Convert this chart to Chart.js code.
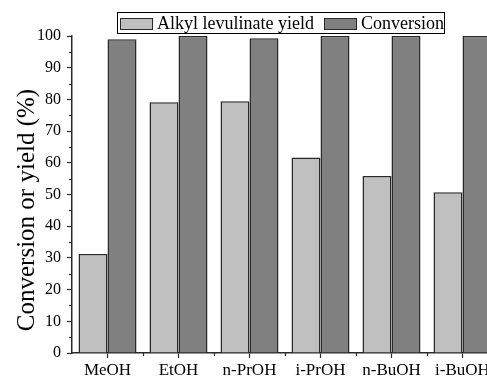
<!DOCTYPE html>
<html lang="en">
<head>
    <meta charset="UTF-8">
    <title>Conversion and alkyl levulinate yield</title>
    <script src="https://cdn.jsdelivr.net/npm/chart.js@4/dist/chart.umd.min.js"></script>
    <style>
        html, body {
            margin: 0;
            padding: 0;
            background: #fff;
            overflow: hidden;
        }
        #wrap {
            width: 500px;
            height: 379px;
        }
    </style>
</head>
<body>
    <div id="wrap">
        <canvas id="chart" width="500" height="379"></canvas>
    </div>

    <script>
        const alcohols = ['MeOH', 'EtOH', 'n-PrOH', 'i-PrOH', 'n-BuOH', 'i-BuOH'];
        const yieldValues = [31.2, 79.1, 79.4, 61.7, 55.8, 50.7];
        const conversionValues = [99.0, 100, 99.3, 100, 100, 100];
        const yTicks = [0, 10, 20, 30, 40, 50, 60, 70, 80, 90, 100];

        const serif = '"Liberation Serif", "Times New Roman", serif';
        const edge = '#2a2a2a';

        // minor ticks, legend box and rotated axis title
        const decor = {
            id: 'decor',
            afterDraw(chart) {
                const ctx = chart.ctx;
                const x = chart.scales.x;
                const y = chart.scales.y;
                const area = chart.chartArea;
                ctx.save();
                ctx.strokeStyle = edge;
                ctx.lineWidth = 1.2;

                // y minor ticks at the 5s
                for (let v = 5; v < 100; v += 10) {
                    const py = Math.round(y.getPixelForValue(v)) + 0.5;
                    ctx.beginPath();
                    ctx.moveTo(area.left - 3, py);
                    ctx.lineTo(area.left, py);
                    ctx.stroke();
                }
                // x minor ticks between categories
                for (let i = 0; i < alcohols.length; i++) {
                    const px = Math.round((x.getPixelForValue(i) + x.getPixelForValue(i + 1)) / 2) + 0.5;
                    ctx.beginPath();
                    ctx.moveTo(px, area.bottom);
                    ctx.lineTo(px, area.bottom + 3);
                    ctx.stroke();
                }

                // legend
                ctx.lineWidth = 1;
                ctx.strokeStyle = '#000';
                ctx.strokeRect(117.5, 12.5, 327, 21);
                ctx.font = '18px ' + serif;
                ctx.textBaseline = 'middle';
                const items = [
                    { sx: 120, tx: 157, ds: chart.data.datasets[0] },
                    { sx: 324, tx: 361, ds: chart.data.datasets[1] }
                ];
                items.forEach(it => {
                    ctx.fillStyle = it.ds.backgroundColor;
                    ctx.fillRect(it.sx + 0.5, 18.5, 32, 11);
                    ctx.strokeStyle = edge;
                    ctx.strokeRect(it.sx + 0.5, 18.5, 32, 11);
                    ctx.fillStyle = '#000';
                    ctx.fillText(it.ds.label, it.tx, 24);
                });

                // y axis title
                ctx.translate(27, 210);
                ctx.rotate(-Math.PI / 2);
                ctx.font = '25px ' + serif;
                ctx.textAlign = 'center';
                ctx.fillText('Conversion or yield (%)', 0, 0);
                ctx.restore();
            }
        };

        new Chart(document.getElementById('chart'), {
            type: 'bar',
            data: {
                labels: alcohols,
                datasets: [
                    {
                        label: 'Alkyl levulinate yield',
                        data: yieldValues,
                        backgroundColor: '#c0c0c0',
                        borderColor: edge,
                        borderWidth: 1.5
                    },
                    {
                        label: 'Conversion',
                        data: conversionValues,
                        backgroundColor: '#808080',
                        borderColor: edge,
                        borderWidth: 1.5
                    }
                ]
            },
            plugins: [decor],
            options: {
                responsive: false,
                animation: false,
                layout: { padding: { top: 36, right: 2, left: 0, bottom: 0 } },
                datasets: {
                    bar: { categoryPercentage: 0.817, barPercentage: 1.0 }
                },
                plugins: {
                    legend: { display: false },
                    tooltip: { enabled: false }
                },
                scales: {
                    x: {
                        afterFit(scale) { scale.height = 26; },
                        grid: {
                            offset: false,
                            drawOnChartArea: false,
                            drawTicks: true,
                            tickLength: 5,
                            tickWidth: 1.2,
                            color: edge
                        },
                        border: { display: true, color: edge, width: 1.5 },
                        ticks: {
                            color: '#000',
                            padding: 2,
                            maxRotation: 0,
                            font: { family: serif, size: 17 }
                        }
                    },
                    y: {
                        min: 0,
                        max: 100,
                        afterFit(scale) { scale.width = 72; },
                        afterBuildTicks(scale) {
                            scale.ticks = yTicks.map(v => ({ value: v }));
                        },
                        grid: {
                            drawOnChartArea: false,
                            drawTicks: true,
                            tickLength: 5,
                            tickWidth: 1.2,
                            color: edge
                        },
                        border: { display: true, color: edge, width: 1.5 },
                        ticks: {
                            color: '#000',
                            padding: 6,
                            font: { family: serif, size: 16 }
                        }
                    }
                }
            }
        });
    </script>
</body>
</html>
